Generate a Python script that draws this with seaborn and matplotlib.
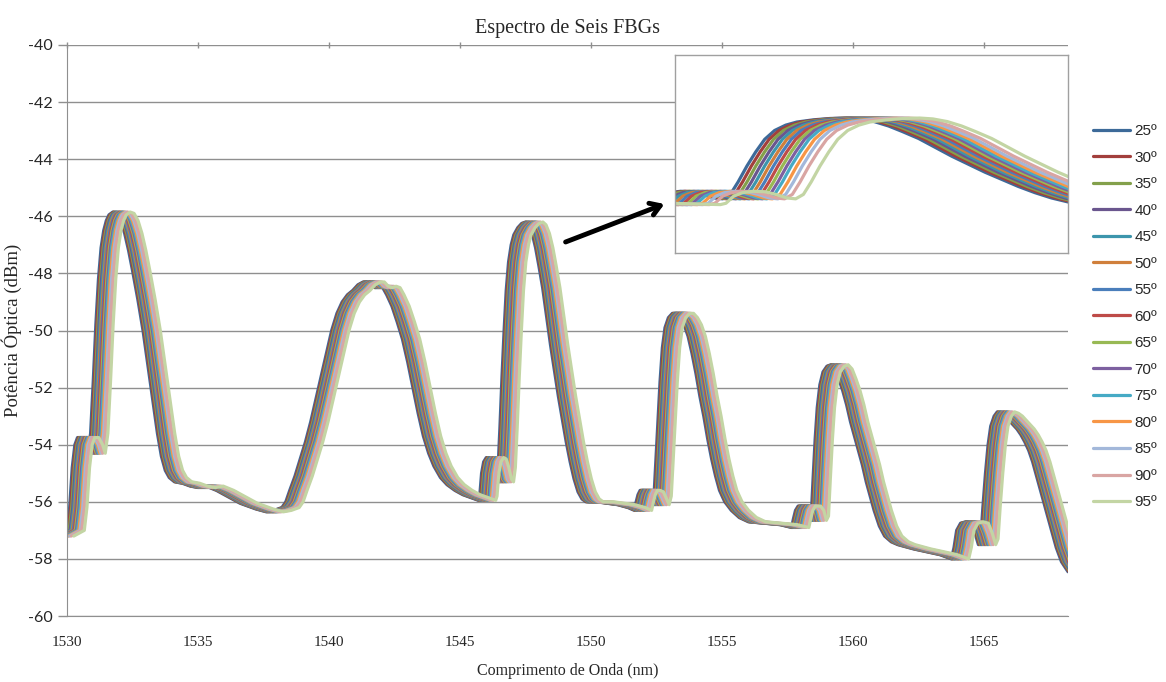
import matplotlib
matplotlib.use("Agg")
import matplotlib.pyplot as plt
import seaborn as sns
import pandas as pd
import numpy as np

comprimento_25 = [
    1529.6, 1530.0, 1530.1, 1530.2, 1530.3, 1530.4, 1530.55, 1530.7, 1530.8, 1530.9,
    1531.0, 1531.1, 1531.2, 1531.3, 1531.4, 1531.5, 1531.6, 1531.75, 1531.9, 1532.05,
    1532.2, 1532.35, 1532.5, 1532.7, 1532.9, 1533.1, 1533.3, 1533.45, 1533.6, 1533.75,
    1533.9, 1534.1, 1534.4, 1534.7, 1535.0, 1535.3, 1535.7, 1536.0, 1536.3, 1536.6,
    1536.9, 1537.2, 1537.6, 1537.9, 1538.2,
    1538.35, 1538.5, 1538.7, 1538.9, 1539.1, 1539.3, 1539.5, 1539.7, 1539.9, 1540.1,
    1540.3, 1540.5, 1540.7, 1540.9, 1541.1, 1541.3, 1541.45, 1541.6, 1541.75, 1541.9,
    1542.05, 1542.2, 1542.4, 1542.6, 1542.8, 1543.0, 1543.2, 1543.4, 1543.6, 1543.8,
    1544.0, 1544.25, 1544.5, 1544.8, 1545.1, 1545.4, 1545.7,
    1545.75, 1545.82, 1545.9, 1546.0, 1546.1, 1546.2, 1546.3, 1546.38, 1546.45, 1546.52,
    1546.6, 1546.68, 1546.76, 1546.85, 1546.95, 1547.05, 1547.2, 1547.35, 1547.5, 1547.62,
    1547.75, 1547.88, 1548.0, 1548.15, 1548.3, 1548.45, 1548.6, 1548.75, 1548.9, 1549.05,
    1549.2, 1549.35, 1549.5, 1549.65, 1549.8, 1550.2, 1550.6, 1551.0, 1551.4, 1551.65,
    1551.72, 1551.79, 1551.87, 1551.97, 1552.1, 1552.22, 1552.32, 1552.4, 1552.47, 1552.55,
    1552.63, 1552.72, 1552.82, 1552.95, 1553.1, 1553.25, 1553.4, 1553.55, 1553.7, 1553.85,
    1554.0, 1554.15, 1554.3, 1554.45, 1554.6, 1554.75, 1554.9, 1555.1, 1555.35, 1555.65,
    1556.0, 1556.6, 1557.2, 1557.65,
    1557.72, 1557.8, 1557.9, 1558.1, 1558.22, 1558.32, 1558.4, 1558.47, 1558.55, 1558.63,
    1558.73, 1558.85, 1559.0, 1559.15, 1559.3, 1559.45, 1559.6, 1559.75, 1559.9, 1560.05,
    1560.2, 1560.35, 1560.5, 1560.65, 1560.8, 1561.0, 1561.2, 1561.45, 1561.7, 1562.3,
    1562.8, 1563.3, 1563.75,
    1563.85, 1563.95, 1564.1, 1564.3, 1564.5, 1564.65, 1564.78, 1564.87, 1564.95, 1565.05,
    1565.15, 1565.25, 1565.38, 1565.5, 1565.65, 1565.8, 1565.95, 1566.1, 1566.25, 1566.4,
    1566.55, 1566.7, 1566.85, 1567.0, 1567.15, 1567.3, 1567.45, 1567.6, 1567.75, 1567.95,
    1568.2,
]
potencia_25 = [
    -57.2, -57.0, -56.2, -54.8, -54.0, -53.75, -53.75, -54.0, -54.3, -53.6,
    -51.8, -49.8, -48.2, -47.1, -46.5, -46.15, -45.95, -45.85, -45.9, -46.15,
    -46.6, -47.2, -47.9, -48.9, -50.0, -51.3, -52.6, -53.6, -54.4, -54.9,
    -55.15, -55.3, -55.35, -55.45, -55.5, -55.45, -55.6, -55.75, -55.9, -56.05,
    -56.15, -56.25, -56.35, -56.3, -56.2,
    -56.0, -55.6, -55.1, -54.5, -53.9, -53.2, -52.4, -51.6, -50.8, -50.0,
    -49.4, -49.0, -48.75, -48.6, -48.4, -48.3, -48.3, -48.45, -48.5, -48.45,
    -48.5, -48.75, -49.15, -49.7, -50.3, -51.1, -52.0, -52.9, -53.7, -54.3,
    -54.75, -55.15, -55.4, -55.6, -55.75, -55.85, -55.95,
    -55.8, -55.0, -54.6, -54.45, -54.5, -54.8, -55.2, -55.3, -54.8, -53.4,
    -51.6, -50.0, -48.6, -47.6, -47.0, -46.65, -46.4, -46.25, -46.2, -46.3,
    -46.6, -47.1, -47.7, -48.5, -49.5, -50.5, -51.4, -52.3, -53.1, -53.9,
    -54.6, -55.2, -55.65, -55.9, -56.0, -56.0, -56.05, -56.1, -56.2, -56.3,
    -56.0, -55.75, -55.6, -55.6, -55.65, -55.9, -56.1, -55.8, -54.6, -53.2,
    -51.8, -50.6, -49.9, -49.55, -49.4, -49.4, -49.55, -49.8, -50.2, -50.8,
    -51.5, -52.3, -53.0, -53.8, -54.5, -55.1, -55.6, -56.0, -56.3, -56.55,
    -56.7, -56.75, -56.8, -56.9,
    -56.6, -56.3, -56.15, -56.15, -56.3, -56.65, -56.5, -55.2, -53.8, -52.7,
    -51.9, -51.45, -51.25, -51.2, -51.35, -51.7, -52.1, -52.6, -53.2, -53.7,
    -54.2, -54.7, -55.3, -55.8, -56.3, -56.85, -57.2, -57.4, -57.5, -57.65,
    -57.75, -57.85, -58.0,
    -57.6, -57.0, -56.75, -56.7, -56.75, -57.1, -57.5, -57.3, -56.2, -55.0,
    -54.0, -53.35, -53.0, -52.85, -52.9, -53.0, -53.15, -53.3, -53.45, -53.65,
    -53.9, -54.2, -54.6, -55.1, -55.6, -56.1, -56.6, -57.1, -57.6, -58.1,
    -58.45,
]

temperaturas = ["25º", "30º", "35º", "40º", "45º", "50º", "55º", "60º",
                "65º", "70º", "75º", "80º", "85º", "90º", "95º"]
# deslocamento do comprimento de onda de Bragg em relação a 25º (nm)
deslocamento_nm = [0.0, 0.04, 0.08, 0.12, 0.16, 0.20, 0.24, 0.28,
                   0.32, 0.36, 0.40, 0.45, 0.50, 0.56, 0.66]
cores = ["#3D6A99", "#A23F3C", "#83A04B", "#6A568E", "#3C95AC", "#D07F3B",
         "#4A7EBB", "#BE4B48", "#98B954", "#7D60A0", "#46AAC5", "#F79646",
         "#A3B8DA", "#D9A5A3", "#C3D5A4"]

frames = []
for temp, d in zip(temperaturas, deslocamento_nm):
    frames.append(pd.DataFrame({
        "comprimento": np.array(comprimento_25) + d,
        "potencia": potencia_25,
        "temp": temp,
    }))
df = pd.concat(frames, ignore_index=True)

sns.set_style("white")
plt.rcParams["font.family"] = ["Liberation Serif", "DejaVu Serif"]
plt.rcParams["axes.unicode_minus"] = False

fig = plt.figure(figsize=(11.66, 6.82), dpi=100)
ax = fig.add_axes([67 / 1166, 1 - 616 / 682, 1001 / 1166, 571 / 682])

sns.lineplot(data=df, x="comprimento", y="potencia", hue="temp",
             hue_order=temperaturas, palette=cores, sort=False,
             estimator=None, lw=2.3, ax=ax)

ax.set_xlim(1530, 1568.2)
ax.set_ylim(-60, -40)
ax.set_xticks(range(1530, 1566, 5))
ax.set_yticks(range(-60, -39, 2))
ax.yaxis.grid(True, color="#8f8f8f", lw=1)
ax.xaxis.grid(False)
for s in ["top", "right"]:
    ax.spines[s].set_visible(False)
ax.spines["left"].set_color("#8f8f8f")
ax.spines["bottom"].set_color("#8f8f8f")
ax.tick_params(axis="y", left=True, length=6.5, width=1, color="#8f8f8f",
               direction="out", pad=4, labelsize=11.5)
ax.tick_params(axis="x", bottom=False, top=True, length=5, width=1,
               color="#8f8f8f", direction="inout", pad=12, labelsize=11)
for lbl in ax.get_yticklabels():
    lbl.set_family(["Lato", "DejaVu Sans"])

ax.set_title("Espectro de Seis FBGs", fontsize=14.5, pad=9)
ax.set_xlabel("Comprimento de Onda (nm)", fontsize=11.5, labelpad=10)
ax.set_ylabel("Potência Óptica (dBm)", fontsize=13.5, labelpad=4)

h, l = ax.get_legend_handles_labels()
ax.legend(h, l, loc="upper left", bbox_to_anchor=(1093 / 1166, 1 - 124 / 682),
          bbox_transform=fig.transFigure, frameon=False, borderpad=0,
          borderaxespad=0, handlelength=2.4, handletextpad=0.3,
          labelspacing=0.82, prop={"family": "Liberation Sans", "size": 11})

# janela ampliada do terceiro pico
axin = fig.add_axes([675 / 1166, 1 - 253 / 682, 393 / 1166, 198 / 682])
sns.lineplot(data=df, x="comprimento", y="potencia", hue="temp",
             hue_order=temperaturas, palette=cores, sort=False,
             estimator=None, lw=2.3, legend=False, ax=axin)
axin.set_xlim(1545.95, 1549.5)
axin.set_ylim(-61.4, -39.1)
axin.set_xticks([])
axin.set_yticks([])
axin.set_xlabel("")
axin.set_ylabel("")
for s in axin.spines.values():
    s.set_color("#a0a0a0")
    s.set_linewidth(1)

ax.annotate("", xy=(667, 682 - 203), xycoords="figure pixels",
            xytext=(563, 682 - 243), textcoords="figure pixels",
            arrowprops=dict(arrowstyle="->,head_length=0.7,head_width=0.45",
                            lw=3.5, color="black"))

fig.savefig("out.png", dpi=100)
